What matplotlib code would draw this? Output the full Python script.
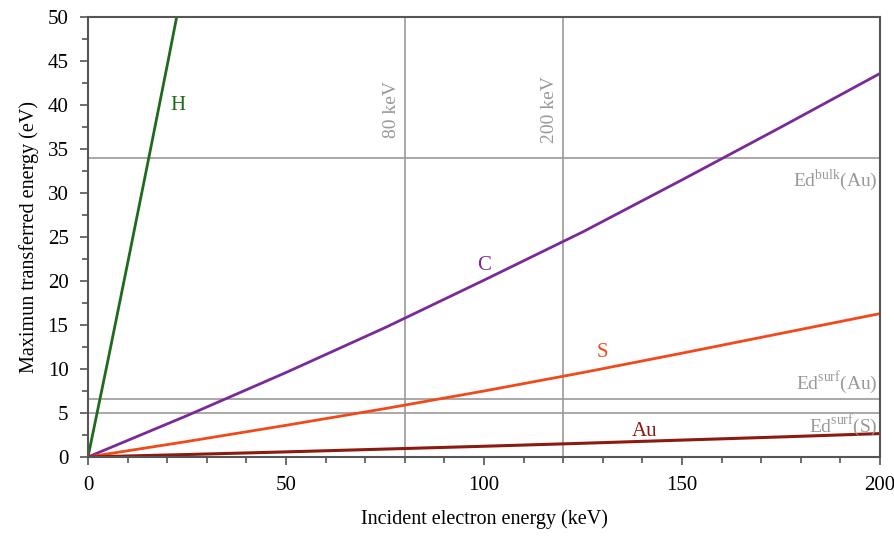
import matplotlib.pyplot as plt
from matplotlib.ticker import MultipleLocator

plt.rcParams['font.family'] = ['Liberation Serif', 'DejaVu Serif']
plt.rcParams['mathtext.fontset'] = 'custom'
plt.rcParams['mathtext.rm'] = 'Liberation Serif'

# incident electron energy (keV) and max transferred energy (eV)
x_h = [0, 5, 10, 15, 20, 25]
y_h = [0, 10.9, 22.0, 33.2, 44.5, 56.0]

x_heavy = [0, 25, 50, 75, 100, 125, 150, 175, 200]
y_c = [0, 4.7, 9.6, 14.7, 20.1, 25.6, 31.5, 37.5, 43.6]
y_s = [0, 1.76, 3.6, 5.5, 7.5, 9.6, 11.8, 14.05, 16.3]
y_au = [0, 0.28, 0.58, 0.9, 1.22, 1.56, 1.92, 2.28, 2.66]

v_lines = [80, 120]
v_labels = ["80 keV", "200 keV"]
h_lines = [34, 6.6, 5]
h_labels = [r"Ed$^{\mathrm{bulk}}$(Au)", r"Ed$^{\mathrm{surf}}$(Au)", r"Ed$^{\mathrm{surf}}$(S)"]
h_text_y = [31.5, 8.4, 3.6]

fig = plt.figure(figsize=(8.95, 5.37), dpi=100)
ax = fig.add_axes([0.0983, 0.149, 0.8849, 0.819])

grey = "#999999"
for xv, lab in zip(v_lines, v_labels):
    ax.axvline(xv, color=grey, lw=1.2, zorder=1)
    ax.text(xv - 1.3, 39.5, lab, rotation=90, color=grey, fontsize=14,
            ha="right", va="center")
for yv, lab, ty in zip(h_lines, h_labels, h_text_y):
    ax.axhline(yv, color=grey, lw=1.2, zorder=1)
    ax.text(199.5, ty, lab, color=grey, fontsize=14, ha="right", va="center")

ax.plot(x_h, y_h, color="#1e6b1e", lw=2)
ax.plot(x_heavy, y_c, color="#7a2a98", lw=2)
ax.plot(x_heavy, y_s, color="#f04a1a", lw=2)
ax.plot(x_heavy, y_au, color="#8b1a10", lw=2.2)

ax.text(22.7, 40, "H", color="#1e6b1e", fontsize=15, ha="center", va="center")
ax.text(100, 21.8, "C", color="#7a2a98", fontsize=15, ha="center", va="center")
ax.text(130, 11.9, "S", color="#f04a1a", fontsize=15, ha="center", va="center")
ax.text(140.5, 2.9, "Au", color="#8b1a10", fontsize=15, ha="center", va="center")

ax.set_xlim(0, 200)
ax.set_ylim(0, 50)
ax.xaxis.set_major_locator(MultipleLocator(50))
ax.xaxis.set_minor_locator(MultipleLocator(10))
ax.yaxis.set_major_locator(MultipleLocator(5))
ax.yaxis.set_minor_locator(MultipleLocator(2.5))
ax.tick_params(which="both", direction="out", color="#555555", labelsize=15, width=1.2)
ax.tick_params(which="major", length=6, pad=8)
ax.tick_params(which="minor", length=4)
for sp in ax.spines.values():
    sp.set_color("#555555")
    sp.set_linewidth(1.5)

ax.set_xlabel("Incident electron energy (keV)", fontsize=14.5, labelpad=10)
ax.set_ylabel("Maximun transferred energy (eV)", fontsize=14.5, labelpad=6)

fig.savefig("out.png", dpi=100)
